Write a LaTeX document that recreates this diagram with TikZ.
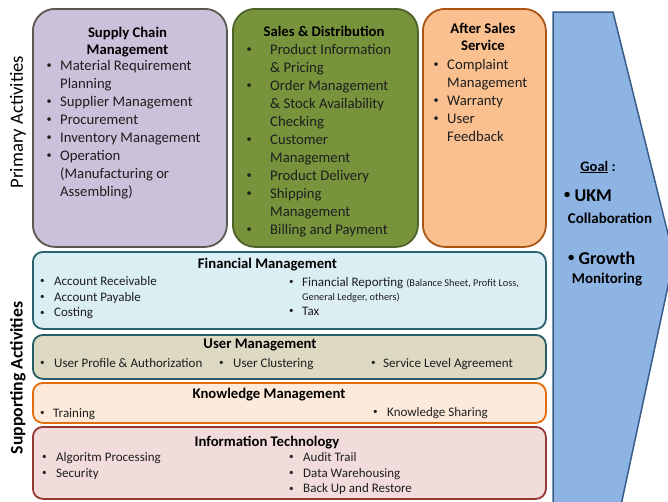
\documentclass[tikz,border=0pt]{standalone}
\usepackage{fontspec}
\usepackage{graphicx}
\setmainfont{Carlito}

\definecolor{txt}{RGB}{30,30,30}
\definecolor{scmfill}{RGB}{204,193,218}
\definecolor{scmline}{RGB}{88,88,78}
\definecolor{sdfill}{RGB}{119,147,60}
\definecolor{sdline}{RGB}{79,98,40}
\definecolor{assfill}{RGB}{250,192,144}
\definecolor{assline}{RGB}{170,85,20}
\definecolor{goalfill}{RGB}{142,180,227}
\definecolor{goalline}{RGB}{56,93,138}
\definecolor{finfill}{RGB}{218,238,243}
\definecolor{finline}{RGB}{40,98,112}
\definecolor{usrfill}{RGB}{221,217,195}
\definecolor{usrline}{RGB}{40,92,100}
\definecolor{knowfill}{RGB}{253,234,218}
\definecolor{knowline}{RGB}{228,108,10}
\definecolor{itfill}{RGB}{242,220,219}
\definecolor{itline}{RGB}{149,55,53}

\newcommand{\smalldot}{\raisebox{0.12em}{\scalebox{0.7}{\textbullet}}}
\newcommand{\blt}[1]{\makebox[#1][l]{\smalldot}}

\begin{document}
\begin{tikzpicture}[x=1pt, y=-1pt,
	ttl/.style={font=\bfseries\fontsize{14.7}{17}\selectfont, align=center, inner sep=0pt},
	lst/.style={font=\fontsize{14.7}{18}\selectfont, align=left, inner sep=0pt, anchor=north west, text=txt},
	sml/.style={font=\fontsize{13}{15.7}\selectfont, align=left, inner sep=0pt, text=txt},
	side/.style={rotate=90, inner sep=0pt}]

	\useasboundingbox (0,0) rectangle (668,501);

	%% The side labels
	\node[side, font=\fontsize{18.7}{22}\selectfont] at (18,122) (prim) {Primary Activities};
	\node[side, font=\bfseries\fontsize{17.7}{21}\selectfont] at (18,378) (supp) {Supporting Activities};

	%% The primary boxes
	\begin{scope}[every node/.style={draw, line width=1.8pt, rectangle, rounded corners=22pt, anchor=north west, minimum height=238pt}]
		\node[fill=scmfill, draw=scmline, minimum width=194pt] at ( 32,8) (scm) {};
		\node[fill=sdfill,  draw=sdline,  minimum width=185pt] at (232,8) (sd) {};
		\node[fill=assfill, draw=assline, minimum width=123pt] at (422,8) (ass) {};
	\end{scope}

	%% The supporting boxes
	\begin{scope}[every node/.style={draw, line width=1.8pt, rectangle, rounded corners=10pt, anchor=north west, minimum width=513pt}]
		\node[fill=finfill,  draw=finline,  minimum height=77pt] at (32,251) (fin) {};
		\node[fill=usrfill,  draw=usrline,  minimum height=44pt] at (32,334) (usr) {};
		\node[fill=knowfill, draw=knowline, minimum height=40pt] at (32,382) (know) {};
		\node[fill=itfill,   draw=itline,   minimum height=72pt] at (32,426) (it) {};
	\end{scope}

	%% The goal arrow, cut at the page edge
	\begin{scope}
		\clip (0,0) rectangle (668,501);
		\draw[line width=1.5pt, draw=goalline, fill=goalfill, line join=miter]
			(553,12) -- (613,12) -- (674,258) -- (620,510) -- (553,510) -- cycle;
	\end{scope}

	%% Supply chain
	\node[ttl, anchor=north] at (127.5,26.7) (scm-t) {Supply Chain\\Management};
	\node[lst] at (46.5,59.7) (scm-l) {\blt{13.5pt}Material Requirement\\
		\hspace*{13.5pt}Planning\\
		\blt{13.5pt}Supplier Management\\
		\blt{13.5pt}Procurement\\
		\blt{13.5pt}Inventory Management\\
		\blt{13.5pt}Operation\\
		\hspace*{13.5pt}(Manufacturing or\\
		\hspace*{13.5pt}Assembling)};

	%% Sales and distribution
	\node[ttl, anchor=north] at (324,25.7) (sd-t) {Sales \& Distribution};
	\node[lst] at (246.5,43.7) (sd-l) {\blt{23.5pt}Product Information\\
		\hspace*{23.5pt}\& Pricing\\
		\blt{23.5pt}Order Management\\
		\hspace*{23.5pt}\& Stock Availability\\
		\hspace*{23.5pt}Checking\\
		\blt{23.5pt}Customer\\
		\hspace*{23.5pt}Management\\
		\blt{23.5pt}Product Delivery\\
		\blt{23.5pt}Shipping\\
		\hspace*{23.5pt}Management\\
		\blt{23.5pt}Billing and Payment};

	%% After sales
	\node[ttl, anchor=north] at (483,22.7) (ass-t) {After Sales\\Service};
	\node[lst] at (433.5,58.7) (ass-l) {\blt{13.5pt}Complaint\\
		\hspace*{13.5pt}Management\\
		\blt{13.5pt}Warranty\\
		\blt{13.5pt}User\\
		\hspace*{13.5pt}Feedback};

	%% Financial management
	\node[ttl, anchor=base] at (267.5,268.7) (fin-t) {Financial Management};
	\node[sml, anchor=north west] at (39.8,276.2) (fin-l) {\blt{14.2pt}Account Receivable\\
		\blt{14.2pt}Account Payable\\
		\blt{14.2pt}Costing};
	\node[sml, anchor=base west] at (288.8,286) (fin-r1) {\blt{13.2pt}Financial Reporting {\fontsize{10.3}{12}\selectfont(Balance Sheet, Profit Loss,}};
	\node[sml, anchor=base west, font=\fontsize{10.3}{12}\selectfont] at (302,300.5) (fin-r2) {General Ledger, others)};
	\node[sml, anchor=base west] at (288.8,315) (fin-r3) {\blt{13.2pt}Tax};

	%% User management
	\node[ttl, anchor=base] at (260,348.7) (usr-t) {User Management};
	\node[sml, anchor=base west] at (39.8,367.2) (usr-1) {\blt{14.2pt}User Profile \& Authorization};
	\node[sml, anchor=base west] at (218.8,367.2) (usr-2) {\blt{14.2pt}User Clustering};
	\node[sml, anchor=base west] at (370.8,367.2) (usr-3) {\blt{12.2pt}Service Level Agreement};

	%% Knowledge management
	\node[ttl, anchor=base] at (269,398.7) (know-t) {Knowledge Management};
	\node[sml, anchor=base west] at (39.8,417) (know-1) {\blt{13.2pt}Training};
	\node[sml, anchor=base west] at (372.8,416) (know-2) {\blt{14.2pt}Knowledge Sharing};

	%% Information technology
	\node[ttl, anchor=base] at (267,446.7) (it-t) {Information Technology};
	\node[sml, anchor=north west] at (41.8,452.2) (it-l) {\blt{14.2pt}Algoritm Processing\\
		\blt{14.2pt}Security};
	\node[sml, anchor=north west] at (288.8,452.2) (it-r) {\blt{14.2pt}Audit Trail\\
		\blt{14.2pt}Data Warehousing\\
		\blt{14.2pt}Back Up and Restore};

	%% Goal text
	\node[font=\bfseries\fontsize{14.5}{17}\selectfont, anchor=base, inner sep=0pt] at (598,171) (goal-t) {\underline{Goal} :};
	\node[font=\bfseries\fontsize{18}{21}\selectfont, anchor=base west, inner sep=0pt] at (564,201) (goal-1) {\smalldot\ UKM};
	\node[font=\bfseries\fontsize{15}{18}\selectfont, anchor=base, inner sep=0pt] at (610,223) (goal-1b) {Collaboration};
	\node[font=\bfseries\fontsize{18}{21}\selectfont, anchor=base west, inner sep=0pt] at (568,264) (goal-2) {\smalldot\ Growth};
	\node[font=\bfseries\fontsize{15}{18}\selectfont, anchor=base, inner sep=0pt] at (607,283) (goal-2b) {Monitoring};

\end{tikzpicture}
\end{document}
